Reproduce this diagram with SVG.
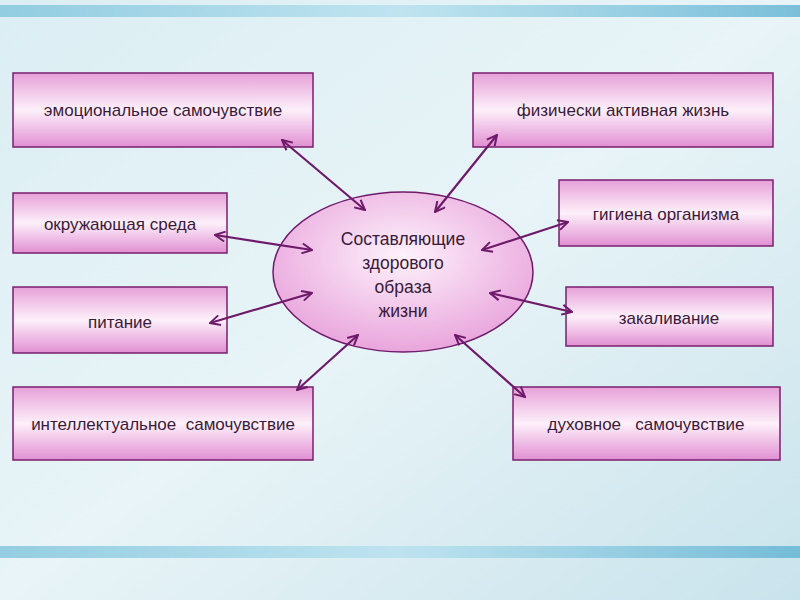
<svg xmlns="http://www.w3.org/2000/svg" width="800" height="600" viewBox="0 0 800 600">
<defs>
<linearGradient id="bg" x1="0" y1="0" x2="1" y2="1"><stop offset="0" stop-color="#dbeef3"/><stop offset="0.5" stop-color="#e8f4f7"/><stop offset="1" stop-color="#c9e3ec"/></linearGradient>
<linearGradient id="bx" x1="0" y1="0" x2="0" y2="1"><stop offset="0" stop-color="#e6a0d8"/><stop offset="0.5" stop-color="#fdf0fa"/><stop offset="1" stop-color="#e18fd2"/></linearGradient>
<radialGradient id="el" cx="0.5" cy="0.4" r="0.6"><stop offset="0" stop-color="#fdf2fb"/><stop offset="1" stop-color="#e9a5dc"/></radialGradient>
<linearGradient id="bar" x1="0" y1="0" x2="1" y2="0"><stop offset="0" stop-color="#7fc4dc"/><stop offset="0.5" stop-color="#b7e0ee"/><stop offset="1" stop-color="#5fb2d2"/></linearGradient>
<marker id="a" viewBox="0 0 12 12" refX="11" refY="6" markerWidth="12" markerHeight="12" markerUnits="userSpaceOnUse" orient="auto-start-reverse"><path d="M1,1 L11,6 L1,11" fill="none" stroke="#6e1a6a" stroke-width="2"/></marker>
<style>
.b{fill:url(#bx);stroke:#7a1f6e;stroke-width:1.5}
.t{font-family:"Liberation Sans",Arial,sans-serif;font-size:17px;fill:#3a1a3a;text-anchor:middle;white-space:pre}
.e{font-size:17.5px}
.c line{stroke:#6e1a6a;stroke-width:2.2;marker-start:url(#a);marker-end:url(#a)}
</style>
</defs>
<rect width="800" height="600" fill="url(#bg)"/>
<rect x="0" y="5" width="800" height="12" fill="url(#bar)" opacity="0.8"/>
<rect x="0" y="546" width="800" height="12" fill="url(#bar)" opacity="0.8"/>
<g id="center"><ellipse cx="403" cy="272" rx="130" ry="80" fill="url(#el)" stroke="#6e1a6a" stroke-width="1.5"/>
<text class="t e" x="403" y="245">Составляющие</text><text class="t e" x="403" y="269">здорового</text><text class="t e" x="403" y="293">образа</text><text class="t e" x="403" y="317">жизни</text></g>
<g id="n1"><rect class="b" x="13" y="73" width="300" height="74"/><text class="t" x="163" y="116">эмоциональное самочувствие</text></g>
<g id="n2"><rect class="b" x="13" y="193" width="214" height="60"/><text class="t" x="120" y="230">окружающая среда</text></g>
<g id="n3"><rect class="b" x="13" y="287" width="214" height="66"/><text class="t" x="120" y="328">питание</text></g>
<g id="n4"><rect class="b" x="13" y="387" width="300" height="73"/><text class="t" x="163" y="430" xml:space="preserve">интеллектуальное  самочувствие</text></g>
<g id="n5"><rect class="b" x="473" y="73" width="300" height="74"/><text class="t" x="623" y="116">физически активная жизнь</text></g>
<g id="n6"><rect class="b" x="559" y="180" width="214" height="66"/><text class="t" x="666" y="220">гигиена организма</text></g>
<g id="n7"><rect class="b" x="566" y="287" width="207" height="59"/><text class="t" x="669" y="324">закаливание</text></g>
<g id="n8"><rect class="b" x="513" y="387" width="267" height="73"/><text class="t" x="646" y="430" xml:space="preserve">духовное   самочувствие</text></g>
<g class="c" id="connectors">
<line x1="282" y1="140" x2="365" y2="210"/>
<line x1="497" y1="135" x2="435" y2="212"/>
<line x1="215" y1="235" x2="312" y2="250"/>
<line x1="568" y1="222" x2="482" y2="250"/>
<line x1="210" y1="323" x2="312" y2="293"/>
<line x1="572" y1="312" x2="490" y2="293"/>
<line x1="297" y1="390" x2="358" y2="335"/>
<line x1="525" y1="397" x2="455" y2="335"/>
</g>
</svg>
